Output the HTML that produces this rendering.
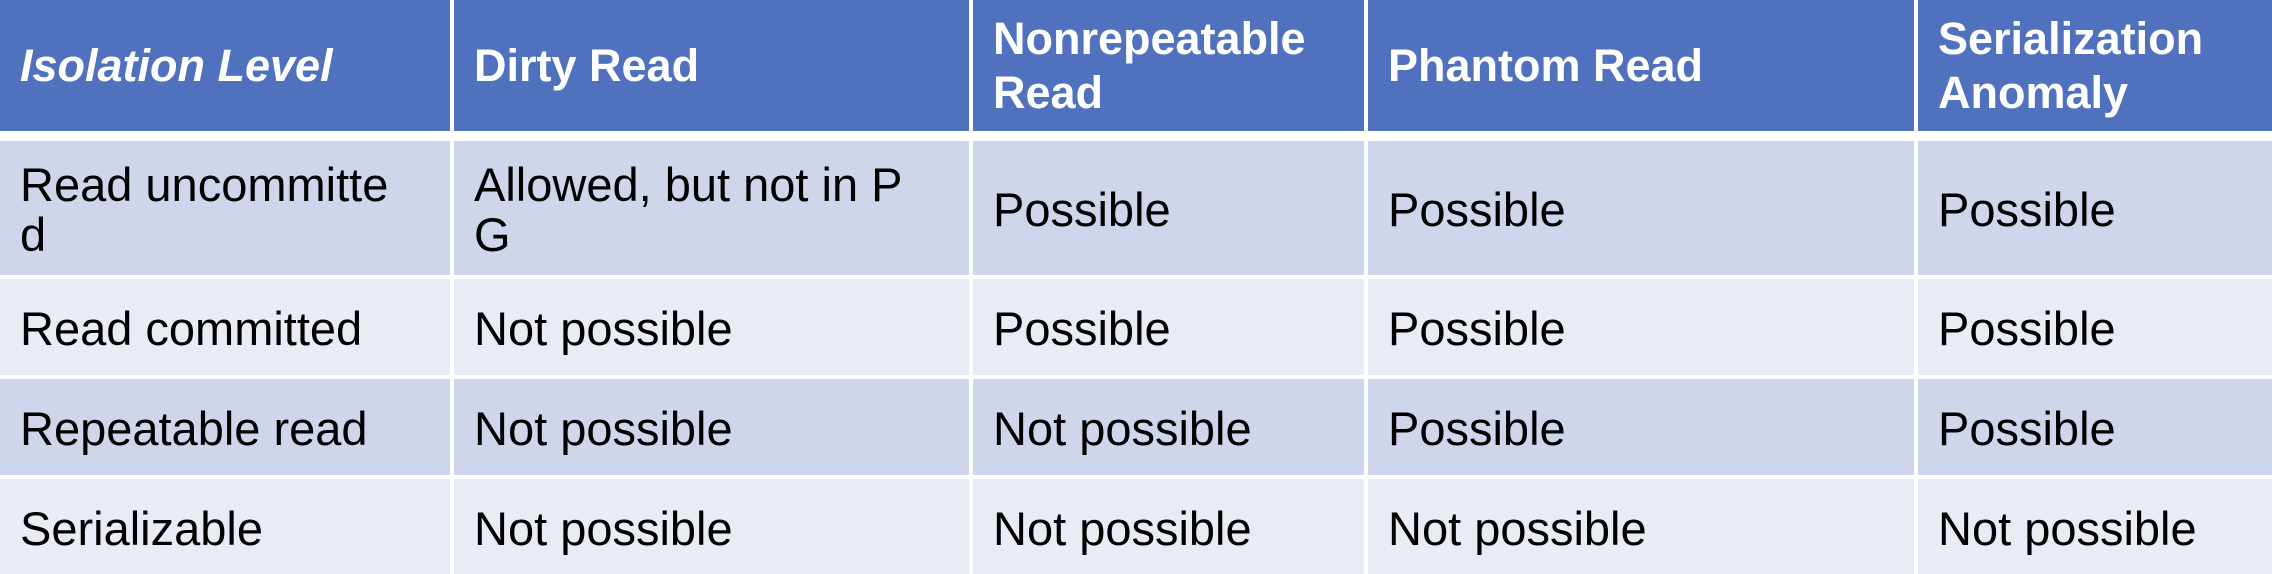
<!DOCTYPE html>
<html><head><meta charset="utf-8"><style>
html,body{margin:0;padding:0;background:#fff;}
#t{position:relative;width:2272px;height:574px;overflow:hidden;font-family:"Liberation Sans","Noto Sans CJK KR",sans-serif;}
.c{position:absolute;box-sizing:border-box;padding-left:20px;padding-top:4px;display:flex;align-items:center;font-size:47px;line-height:50px;color:#000;white-space:nowrap;}
.h{background:#4F71BE;color:#fff;font-weight:bold;font-size:45px;line-height:54px;padding-top:0;}
.d{background:#CFD5EA;}
.l{background:#E9EBF5;}
</style></head><body><div id="t">
<div class="c h" style="left:0;top:0;width:450px;height:131px;font-style:italic">Isolation Level</div>
<div class="c h" style="left:454px;top:0;width:515px;height:131px">Dirty Read</div>
<div class="c h" style="left:973px;top:0;width:391px;height:131px">Nonrepeatable<br>Read</div>
<div class="c h" style="left:1368px;top:0;width:546px;height:131px">Phantom Read</div>
<div class="c h" style="left:1918px;top:0;width:354px;height:131px">Serialization<br>Anomaly</div>

<div class="c d" style="left:0;top:141px;width:450px;height:134px">Read uncommitte<br>d</div>
<div class="c d" style="left:454px;top:141px;width:515px;height:134px">Allowed, but not in P<br>G</div>
<div class="c d" style="left:973px;top:141px;width:391px;height:134px">Possible</div>
<div class="c d" style="left:1368px;top:141px;width:546px;height:134px">Possible</div>
<div class="c d" style="left:1918px;top:141px;width:354px;height:134px">Possible</div>

<div class="c l" style="left:0;top:279px;width:450px;height:96px">Read committed</div>
<div class="c l" style="left:454px;top:279px;width:515px;height:96px">Not possible</div>
<div class="c l" style="left:973px;top:279px;width:391px;height:96px">Possible</div>
<div class="c l" style="left:1368px;top:279px;width:546px;height:96px">Possible</div>
<div class="c l" style="left:1918px;top:279px;width:354px;height:96px">Possible</div>

<div class="c d" style="left:0;top:379px;width:450px;height:96px">Repeatable read</div>
<div class="c d" style="left:454px;top:379px;width:515px;height:96px">Not possible</div>
<div class="c d" style="left:973px;top:379px;width:391px;height:96px">Not possible</div>
<div class="c d" style="left:1368px;top:379px;width:546px;height:96px">Possible</div>
<div class="c d" style="left:1918px;top:379px;width:354px;height:96px">Possible</div>

<div class="c l" style="left:0;top:479px;width:450px;height:95px">Serializable</div>
<div class="c l" style="left:454px;top:479px;width:515px;height:95px">Not possible</div>
<div class="c l" style="left:973px;top:479px;width:391px;height:95px">Not possible</div>
<div class="c l" style="left:1368px;top:479px;width:546px;height:95px">Not possible</div>
<div class="c l" style="left:1918px;top:479px;width:354px;height:95px">Not possible</div>
</div></body></html>
